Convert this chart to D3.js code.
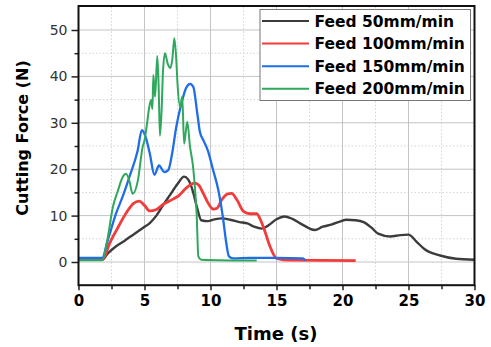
<!DOCTYPE html>
<html>
<head>
<meta charset="utf-8">
<script src="https://cdn.jsdelivr.net/npm/d3@7"></script>
<style>
  body { margin: 0; background: #fff; }
  svg { display: block; }
</style>
</head>
<body>
<script>
// series data: [time (s), force (N)]
let feed50 = [[0,0.5],[1.8,0.5],[2.2,1.8],[2.8,3.3],[3.5,4.6],[4.2,6],[4.9,7.4],[5.4,8.4],[5.9,10],[6.4,12.2],[6.9,14.3],[7.5,16.8],[8,18.4],[8.3,17.8],[8.65,15.4],[9,11.5],[9.3,9],[9.8,8.8],[10.3,9.2],[10.9,9.4],[11.5,9.1],[12.2,8.6],[12.8,8.3],[13.3,7.6],[13.9,7.2],[14.4,7.9],[15,9.2],[15.6,9.8],[16.2,9.3],[17,8],[17.9,6.9],[18.5,7.6],[19.2,8.1],[19.8,8.7],[20.3,9.1],[21,9.0],[21.6,8.6],[22.2,7.4],[22.7,6.1],[23.6,5.5],[24.4,5.8],[25,5.9],[25.6,4.4],[26.2,2.8],[27.4,1.4],[28.6,0.7],[30,0.5]];
let feed100 = [[0,0.5],[1.8,0.5],[2.4,4.3],[3.0,7.5],[3.6,10.5],[4.15,12.6],[4.6,13.1],[5.0,12.2],[5.4,11],[5.9,11.3],[6.4,12.4],[7.2,13.6],[7.6,14.3],[8.1,15.8],[8.8,17],[9.1,16.6],[9.45,14.8],[9.8,12.8],[10.2,11.4],[10.5,11.6],[10.85,13.4],[11.3,14.7],[11.6,14.8],[12.0,13.4],[12.5,10.9],[13.0,10.4],[13.5,10.4],[13.8,9.0],[14.1,6.8],[14.5,3.4],[15,0.8],[16,0.4],[21,0.3]];
let feed150 = [[0,0.9],[1.8,0.9],[2.2,4.5],[2.84,10.4],[3.4,14.5],[3.85,18.3],[4.48,24],[4.8,28.4],[5.1,26.8],[5.4,23.4],[5.75,18.8],[6.1,20.8],[6.5,19.4],[6.8,19.8],[7.1,23.5],[7.4,29],[7.8,34.2],[8.15,37.5],[8.45,38.4],[8.7,37.7],[9.0,32],[9.2,28],[9.5,26],[9.8,24],[10.2,19.8],[10.6,15.4],[10.97,9],[11.15,5],[11.4,1.2],[11.7,0.8],[13,0.9],[15,0.9],[17.0,0.8],[17.2,0.3]];
let feed200 = [[0,0.4],[1.8,0.4],[2.2,5],[2.6,11.8],[3.0,15.5],[3.35,18.3],[3.6,19],[3.85,17.5],[4.1,14.7],[4.5,17.6],[4.86,24.8],[5.0,26.2],[5.2,30],[5.36,33.4],[5.5,34.9],[5.6,33],[5.67,40.3],[5.8,35.6],[5.97,44.4],[6.07,38],[6.17,27.2],[6.3,33],[6.4,41],[6.55,45],[6.75,42.8],[6.95,41.8],[7.1,43.5],[7.26,48.2],[7.4,44],[7.5,38.5],[7.7,33.4],[7.86,35.6],[8.0,25.5],[8.24,30.2],[8.45,24.8],[8.65,21.2],[8.75,18.5],[8.95,10.4],[9.08,1.2],[9.3,0.5],[13.5,0.3]];

let seriesNames = ['Feed 50mm/min','Feed 100mm/min','Feed 150mm/min','Feed 200mm/min'];
let seriesColors = ['#3c3c3c','#f23c3c','#1f6ee8','#2fa85e'];
let seriesWidths = [2.4,2.8,2.3,2];
let xTicks = [0,5,10,15,20,25,30];
let yTicks = [0,10,20,30,40,50];

let w = 491, h = 347;
let pLeft = 78.5, pRight = 474.5, pTop = 6.8, pBottom = 285.2;

let svg = d3.select('body').append('svg')
  .attr('width',w)
  .attr('height',h);

let x = d3.scaleLinear().domain([0,30]).range([pLeft,pRight]);
let y = d3.scaleLinear().domain([-5,55]).range([pBottom,pTop]);

// grid
let minorX = d3.range(2.5,30,5), minorY = d3.range(5,55,10);
svg.append('g').selectAll('line').data(minorX).enter().append('line')
  .attr('x1',d=>x(d)).attr('x2',d=>x(d)).attr('y1',pTop).attr('y2',pBottom)
  .attr('stroke','#d4d4d4').attr('stroke-width',1).attr('stroke-dasharray','1.5,2');
svg.append('g').selectAll('line').data(minorY).enter().append('line')
  .attr('x1',pLeft).attr('x2',pRight).attr('y1',d=>y(d)).attr('y2',d=>y(d))
  .attr('stroke','#d4d4d4').attr('stroke-width',1).attr('stroke-dasharray','1.5,2');
svg.append('g').selectAll('line').data(xTicks.slice(1,-1)).enter().append('line')
  .attr('x1',d=>x(d)).attr('x2',d=>x(d)).attr('y1',pTop).attr('y2',pBottom)
  .attr('stroke','#c4c4c4').attr('stroke-width',1);
svg.append('g').selectAll('line').data(yTicks).enter().append('line')
  .attr('x1',pLeft).attr('x2',pRight).attr('y1',d=>y(d)).attr('y2',d=>y(d))
  .attr('stroke','#c4c4c4').attr('stroke-width',1);

// curves
let line = d3.line().x(d=>x(d[0])).y(d=>y(d[1])).curve(d3.curveMonotoneX);
[feed50,feed100,feed150,feed200].forEach((s,i)=>{
  svg.append('path')
    .datum(s)
    .attr('d',line)
    .attr('fill','none')
    .attr('stroke',seriesColors[i])
    .attr('stroke-width',seriesWidths[i])
    .attr('stroke-linejoin','round');
});

// axes
let xAxis = svg.append('g')
  .attr('transform',`translate(0,${pBottom})`)
  .call(d3.axisBottom(x).tickValues(xTicks).tickSize(5).tickPadding(5));
let yAxis = svg.append('g')
  .attr('transform',`translate(${pLeft},0)`)
  .call(d3.axisLeft(y).tickValues(yTicks).tickSize(7).tickPadding(4));
svg.append('g')
  .attr('transform',`translate(0,${pBottom})`)
  .call(d3.axisBottom(x).tickValues(minorX).tickSize(4).tickFormat(''));
svg.append('g')
  .attr('transform',`translate(${pLeft},0)`)
  .call(d3.axisLeft(y).tickValues(minorY).tickSize(4).tickFormat(''));

svg.selectAll('.domain').remove();
svg.selectAll('.tick line').attr('stroke','#222').attr('stroke-width',1.5);
xAxis.selectAll('text')
  .style('font-family','DejaVu Sans').style('font-weight','bold')
  .style('font-size','15px').attr('fill','#000');
yAxis.selectAll('text')
  .style('font-family','DejaVu Sans')
  .style('font-size','14px').attr('fill','#333');

// frame
svg.append('rect')
  .attr('x',pLeft).attr('y',pTop-0.8)
  .attr('width',pRight-pLeft).attr('height',pBottom-pTop+0.8)
  .attr('fill','none').attr('stroke','#111').attr('stroke-width',2);

// titles
svg.append('text')
  .text('Time (s)')
  .attr('x',276).attr('y',340)
  .attr('text-anchor','middle')
  .style('font-family','DejaVu Sans').style('font-weight','bold').style('font-size','18px');
svg.append('text')
  .text('Cutting Force (N)')
  .attr('transform','translate(28,138) rotate(-90)')
  .attr('text-anchor','middle')
  .style('font-family','DejaVu Sans').style('font-weight','bold').style('font-size','16px');

// legend
let legend = svg.append('g');
legend.append('rect')
  .attr('x',260).attr('y',9.5).attr('width',210.5).attr('height',91)
  .attr('fill','#fff').attr('stroke','#777').attr('stroke-width',1);
seriesNames.forEach((name,i)=>{
  let ly = 21 + i*22.6;
  legend.append('line')
    .attr('x1',262).attr('x2',309).attr('y1',ly).attr('y2',ly)
    .attr('stroke',seriesColors[i]).attr('stroke-width',2);
  legend.append('text')
    .text(name)
    .attr('x',314.5).attr('y',ly+5.5)
    .style('font-family','DejaVu Sans').style('font-weight','bold').style('font-size','15.5px');
});
</script>
</body>
</html>
